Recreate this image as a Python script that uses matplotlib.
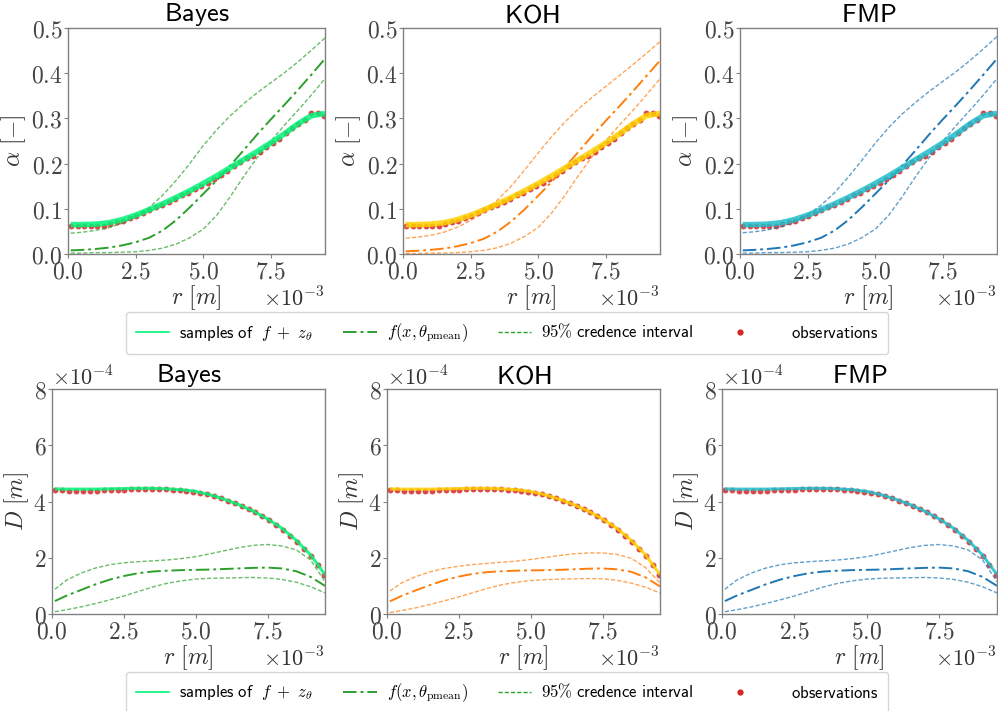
import numpy as np
import matplotlib
matplotlib.use("Agg")
import matplotlib.pyplot as plt
from matplotlib.lines import Line2D

plt.rcParams["mathtext.fontset"] = "cm"
plt.rcParams["font.family"] = ["DejaVu Sans"]

# ==============================
# DATA
# ==============================

methods = ["Bayes", "KOH", "FMP"]

# observation radii [1e-3 m] and grid of the model curves [1e-3 m]
r_obs = np.linspace(0.12, 9.48, 40)
r_line = [0.1, 0.5, 1.0, 1.5, 2.0, 2.5, 3.0, 3.5, 4.0, 4.5,
          5.0, 5.5, 6.0, 6.5, 7.0, 7.5, 8.0, 8.5, 9.0, 9.5]

alpha_obs = [0.061, 0.062, 0.062, 0.062, 0.062, 0.063, 0.066, 0.070, 0.074, 0.079,
             0.085, 0.090, 0.097, 0.103, 0.109, 0.115, 0.122, 0.130, 0.136, 0.143,
             0.151, 0.158, 0.167, 0.175, 0.184, 0.195, 0.204, 0.212, 0.217, 0.225,
             0.236, 0.245, 0.254, 0.267, 0.278, 0.288, 0.296, 0.312, 0.312, 0.305]

D_obs = [4.42, 4.40, 4.39, 4.39, 4.39, 4.39, 4.39, 4.40, 4.40, 4.41,
         4.41, 4.43, 4.45, 4.46, 4.46, 4.45, 4.44, 4.42, 4.40, 4.38,
         4.35, 4.31, 4.26, 4.20, 4.12, 4.03, 3.94, 3.84, 3.74, 3.62,
         3.49, 3.33, 3.17, 2.99, 2.79, 2.57, 2.32, 2.06, 1.75, 1.37]

# samples of f + z_theta
alpha_samp = [0.065, 0.065, 0.066, 0.069, 0.076, 0.086, 0.098, 0.111, 0.125, 0.140,
              0.156, 0.173, 0.191, 0.209, 0.227, 0.246, 0.266, 0.288, 0.306, 0.311]
D_samp = [4.45, 4.44, 4.44, 4.44, 4.45, 4.46, 4.47, 4.47, 4.45, 4.42,
          4.36, 4.24, 4.08, 3.89, 3.66, 3.38, 3.05, 2.62, 2.10, 1.40]

# f(x, theta_pmean) and 95% interval, per method
alpha_mean = {
    "Bayes": [0.008, 0.009, 0.011, 0.014, 0.019, 0.026, 0.036, 0.052, 0.075, 0.103,
              0.133, 0.163, 0.196, 0.230, 0.265, 0.298, 0.330, 0.363, 0.397, 0.432],
    "KOH": [0.006, 0.007, 0.009, 0.012, 0.017, 0.024, 0.034, 0.050, 0.072, 0.099,
            0.129, 0.160, 0.193, 0.227, 0.262, 0.295, 0.327, 0.360, 0.394, 0.428],
    "FMP": [0.008, 0.009, 0.011, 0.014, 0.019, 0.026, 0.036, 0.052, 0.075, 0.103,
            0.133, 0.163, 0.196, 0.230, 0.265, 0.298, 0.330, 0.363, 0.397, 0.432],
}
alpha_up = {
    "Bayes": [0.046, 0.048, 0.052, 0.058, 0.068, 0.083, 0.103, 0.130, 0.163, 0.200,
              0.240, 0.275, 0.306, 0.333, 0.357, 0.379, 0.401, 0.425, 0.451, 0.478],
    "KOH": [0.035, 0.037, 0.041, 0.048, 0.059, 0.074, 0.094, 0.120, 0.150, 0.186,
            0.224, 0.260, 0.293, 0.322, 0.347, 0.371, 0.395, 0.419, 0.444, 0.470],
    "FMP": [0.047, 0.049, 0.053, 0.060, 0.071, 0.087, 0.108, 0.136, 0.170, 0.207,
            0.245, 0.280, 0.310, 0.336, 0.360, 0.382, 0.404, 0.428, 0.454, 0.481],
}
alpha_low = {
    "Bayes": [0.002, 0.002, 0.003, 0.003, 0.004, 0.005, 0.008, 0.013, 0.022, 0.036,
              0.055, 0.086, 0.127, 0.172, 0.214, 0.250, 0.285, 0.318, 0.352, 0.388],
    "KOH": [0.001, 0.001, 0.002, 0.002, 0.003, 0.005, 0.008, 0.014, 0.024, 0.039,
            0.059, 0.091, 0.131, 0.175, 0.216, 0.251, 0.285, 0.318, 0.352, 0.388],
    "FMP": [0.002, 0.002, 0.003, 0.003, 0.004, 0.005, 0.008, 0.013, 0.022, 0.036,
            0.055, 0.086, 0.127, 0.172, 0.214, 0.250, 0.285, 0.318, 0.352, 0.388],
}

D_mean = {
    "Bayes": [0.46, 0.65, 0.85, 1.05, 1.22, 1.35, 1.45, 1.51, 1.54, 1.56,
              1.57, 1.58, 1.60, 1.62, 1.64, 1.65, 1.62, 1.52, 1.32, 1.00],
    "KOH": [0.45, 0.64, 0.84, 1.03, 1.20, 1.33, 1.43, 1.49, 1.52, 1.54,
            1.55, 1.56, 1.57, 1.59, 1.61, 1.62, 1.59, 1.50, 1.30, 0.98],
    "FMP": [0.46, 0.65, 0.85, 1.05, 1.22, 1.35, 1.45, 1.51, 1.54, 1.56,
            1.57, 1.58, 1.60, 1.62, 1.64, 1.65, 1.62, 1.52, 1.32, 1.00],
}
D_up = {
    "Bayes": [0.88, 1.20, 1.45, 1.63, 1.75, 1.82, 1.86, 1.89, 1.92, 1.97,
              2.04, 2.14, 2.25, 2.36, 2.44, 2.47, 2.42, 2.28, 1.92, 1.15],
    "KOH": [0.82, 1.10, 1.33, 1.50, 1.62, 1.70, 1.76, 1.80, 1.84, 1.88,
            1.94, 2.01, 2.08, 2.14, 2.17, 2.17, 2.12, 1.98, 1.65, 1.10],
    "FMP": [0.88, 1.20, 1.45, 1.63, 1.75, 1.82, 1.86, 1.89, 1.92, 1.97,
            2.04, 2.14, 2.25, 2.36, 2.44, 2.47, 2.42, 2.28, 1.92, 1.15],
}
D_low = {
    "Bayes": [0.08, 0.15, 0.25, 0.37, 0.50, 0.64, 0.80, 0.96, 1.09, 1.18,
              1.24, 1.27, 1.28, 1.29, 1.30, 1.28, 1.23, 1.13, 0.97, 0.75],
    "KOH": [0.05, 0.12, 0.22, 0.34, 0.47, 0.61, 0.76, 0.91, 1.04, 1.13,
            1.19, 1.22, 1.24, 1.25, 1.26, 1.25, 1.20, 1.10, 0.95, 0.75],
    "FMP": [0.08, 0.15, 0.25, 0.37, 0.50, 0.64, 0.80, 0.96, 1.09, 1.18,
            1.24, 1.27, 1.28, 1.29, 1.30, 1.28, 1.23, 1.13, 0.97, 0.75],
}

samp_color = {"Bayes": "#00f57a", "KOH": "#ffd000", "FMP": "#1fbfcc"}
line_color = {"Bayes": "#2ca02c", "KOH": "#ff7f0e", "FMP": "#1f77b4"}
obs_color = "#d62728"

# ==============================
# FIGURE
# ==============================

W, H = 998, 711
fig = plt.figure(figsize=(W / 100, H / 100), dpi=100)


def px_axes(x0, y0, x1, y1):
    return fig.add_axes([x0 / W, 1 - y1 / H, (x1 - x0) / W, (y1 - y0) / H])


top_boxes = [(68, 28, 325, 254), (403, 28, 660, 254), (740, 28, 997, 254)]
bot_boxes = [(52, 389, 325, 614), (387, 389, 660, 614), (722, 389, 997, 614)]

xt = [0, 2.5, 5.0, 7.5]
xt_labels = [r"$0.0$", r"$2.5$", r"$5.0$", r"$7.5$"]


def style(ax):
    for s in ax.spines.values():
        s.set_color("#808080")
        s.set_linewidth(1.0)
    ax.tick_params(colors="#808080", length=3, width=0.8, labelsize=17,
                   labelcolor="#444444", pad=1)
    ax.set_xlim(0, 9.5)
    ax.set_xticks(xt)
    ax.set_xticklabels(xt_labels)
    ax.set_xlabel(r"$r\ [m]$", fontsize=17, color="#333333", labelpad=0)
    ax.text(1.0, -0.145, r"$\times10^{-3}$", transform=ax.transAxes,
            ha="right", va="top", fontsize=16, color="#333333")


def draw(ax, m, samp, mean, up, low, obs, samp_lw):
    ax.scatter(r_obs, obs, s=18, color=obs_color, alpha=0.85, lw=0, zorder=1)
    ax.plot(r_line, up, color=line_color[m], lw=1.0, alpha=0.7, ls=(0, (3, 1.5)))
    ax.plot(r_line, low, color=line_color[m], lw=1.0, alpha=0.7, ls=(0, (3, 1.5)))
    ax.plot(r_line, mean, color=line_color[m], lw=1.4, ls=(0, (7, 2, 1.5, 2)))
    ax.plot(r_line, samp, color=samp_color[m], lw=samp_lw, alpha=0.85,
            solid_capstyle="butt")


for m, box in zip(methods, top_boxes):
    ax = px_axes(*box)
    draw(ax, m, alpha_samp, alpha_mean[m], alpha_up[m], alpha_low[m], alpha_obs, 4.0)
    style(ax)
    ax.set_ylim(0, 0.5)
    ax.set_yticks([0, 0.1, 0.2, 0.3, 0.4, 0.5])
    ax.set_yticklabels([r"$0.0$", r"$0.1$", r"$0.2$", r"$0.3$", r"$0.4$", r"$0.5$"])
    ax.set_ylabel(r"$\alpha\ [-]$", fontsize=17, color="#333333", labelpad=2)
    ax.set_title(r"$\mathsf{" + m + "}$", fontsize=19, pad=3)

for m, box in zip(methods, bot_boxes):
    ax = px_axes(*box)
    draw(ax, m, D_samp, D_mean[m], D_up[m], D_low[m], D_obs, 2.2)
    style(ax)
    ax.set_ylim(0, 8)
    ax.set_yticks([0, 2, 4, 6, 8])
    ax.set_yticklabels([r"$0$", r"$2$", r"$4$", r"$6$", r"$8$"])
    ax.set_ylabel(r"$D\ [m]$", fontsize=17, color="#333333", labelpad=2)
    ax.set_title(r"$\mathsf{" + m + "}$", fontsize=19, pad=3)
    ax.text(0.0, 1.0, r"$\times10^{-4}$", transform=ax.transAxes,
            ha="left", va="bottom", fontsize=16, color="#333333")

# ==============================
# LEGENDS
# ==============================

handles = [
    Line2D([], [], color=samp_color["Bayes"], lw=1.2),
    Line2D([], [], color=line_color["Bayes"], lw=1.4, ls=(0, (7, 2, 1.5, 2))),
    Line2D([], [], color=line_color["Bayes"], lw=1.0, ls=(0, (3, 1.5))),
    Line2D([], [], color=obs_color, lw=0, marker="o", markersize=3.5),
]
labels = [
    r"$\mathsf{samples\ of}\ \ f\ +\ z_\theta$",
    r"$f(x,\theta_{\mathrm{pmean}})$",
    r"$\mathsf{95}\%\ \mathsf{credence\ interval}$",
    r"$\ \ \ \ \ \mathsf{observations}$",
]

for yc in (333, 693):
    fig.legend(handles, labels, loc="center", ncol=4,
               bbox_to_anchor=(507 / W, 1 - yc / H), fontsize=12,
               frameon=True, edgecolor="#cccccc", fancybox=True,
               columnspacing=1.8, handlelength=2.0, handletextpad=0.6,
               borderpad=0.6)

fig.savefig("out.png", dpi=100)
